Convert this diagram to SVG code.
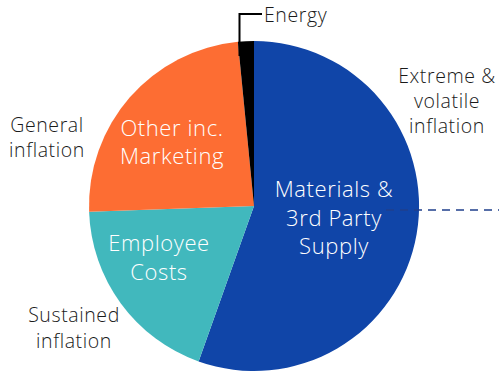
<svg xmlns="http://www.w3.org/2000/svg" width="499" height="373" viewBox="0 0 499 373">
<style>
.lbl{font-family:"Open Sans",Lato,"Noto Sans",sans-serif;font-weight:300;font-size:19.5px;letter-spacing:0.6px;fill:#1a1a1a;text-anchor:middle}
.in{font-family:"Open Sans",Lato,"Noto Sans",sans-serif;font-weight:300;font-size:22px;letter-spacing:0.6px;fill:#ffffff;text-anchor:middle}
</style>
<rect width="499" height="373" fill="#ffffff"/>
<g id="materials">
<path d="M254,206 L254,41 A165,165 0 1,1 198.6,361.4 Z" fill="#1045A8"/>
<text class="in" x="334" y="197">Materials &amp;</text>
<text class="in" x="334" y="226">3rd Party</text>
<text class="in" x="334" y="254">Supply</text>
</g>
<g id="employee">
<path d="M254,206 L198.6,361.4 A165,165 0 0,1 89.1,211.8 Z" fill="#41B8BD"/>
<text class="in" x="159" y="251">Employee</text>
<text class="in" x="159" y="280">Costs</text>
</g>
<g id="other">
<path d="M254,206 L89.1,211.8 A165,165 0 0,1 237.9,41.8 Z" fill="#FD6D33"/>
<text class="in" x="172" y="136">Other inc.</text>
<text class="in" x="172" y="164">Marketing</text>
</g>
<g id="energy">
<path d="M254,206 L237.9,41.8 A165,165 0 0,1 254,41 Z" fill="#000000"/>
<text class="lbl" x="264" y="22" style="text-anchor:start">Energy</text>
</g>
<g id="connectors" fill="none">
<polyline points="239.5,56 239.5,14 262,14" stroke="#000000" stroke-width="2"/>
<line x1="386" y1="210" x2="499" y2="210" stroke="#1F3F8C" stroke-width="1.6" stroke-dasharray="8,6"/>
</g>
<g id="label-general">
<text class="lbl" x="47" y="132">General</text>
<text class="lbl" x="47" y="157">inflation</text>
</g>
<g id="label-extreme">
<text class="lbl" x="447" y="83">Extreme &amp;</text>
<text class="lbl" x="447" y="108">volatile</text>
<text class="lbl" x="447" y="133">inflation</text>
</g>
<g id="label-sustained">
<text class="lbl" x="74" y="322">Sustained</text>
<text class="lbl" x="74" y="348">inflation</text>
</g>
</svg>
